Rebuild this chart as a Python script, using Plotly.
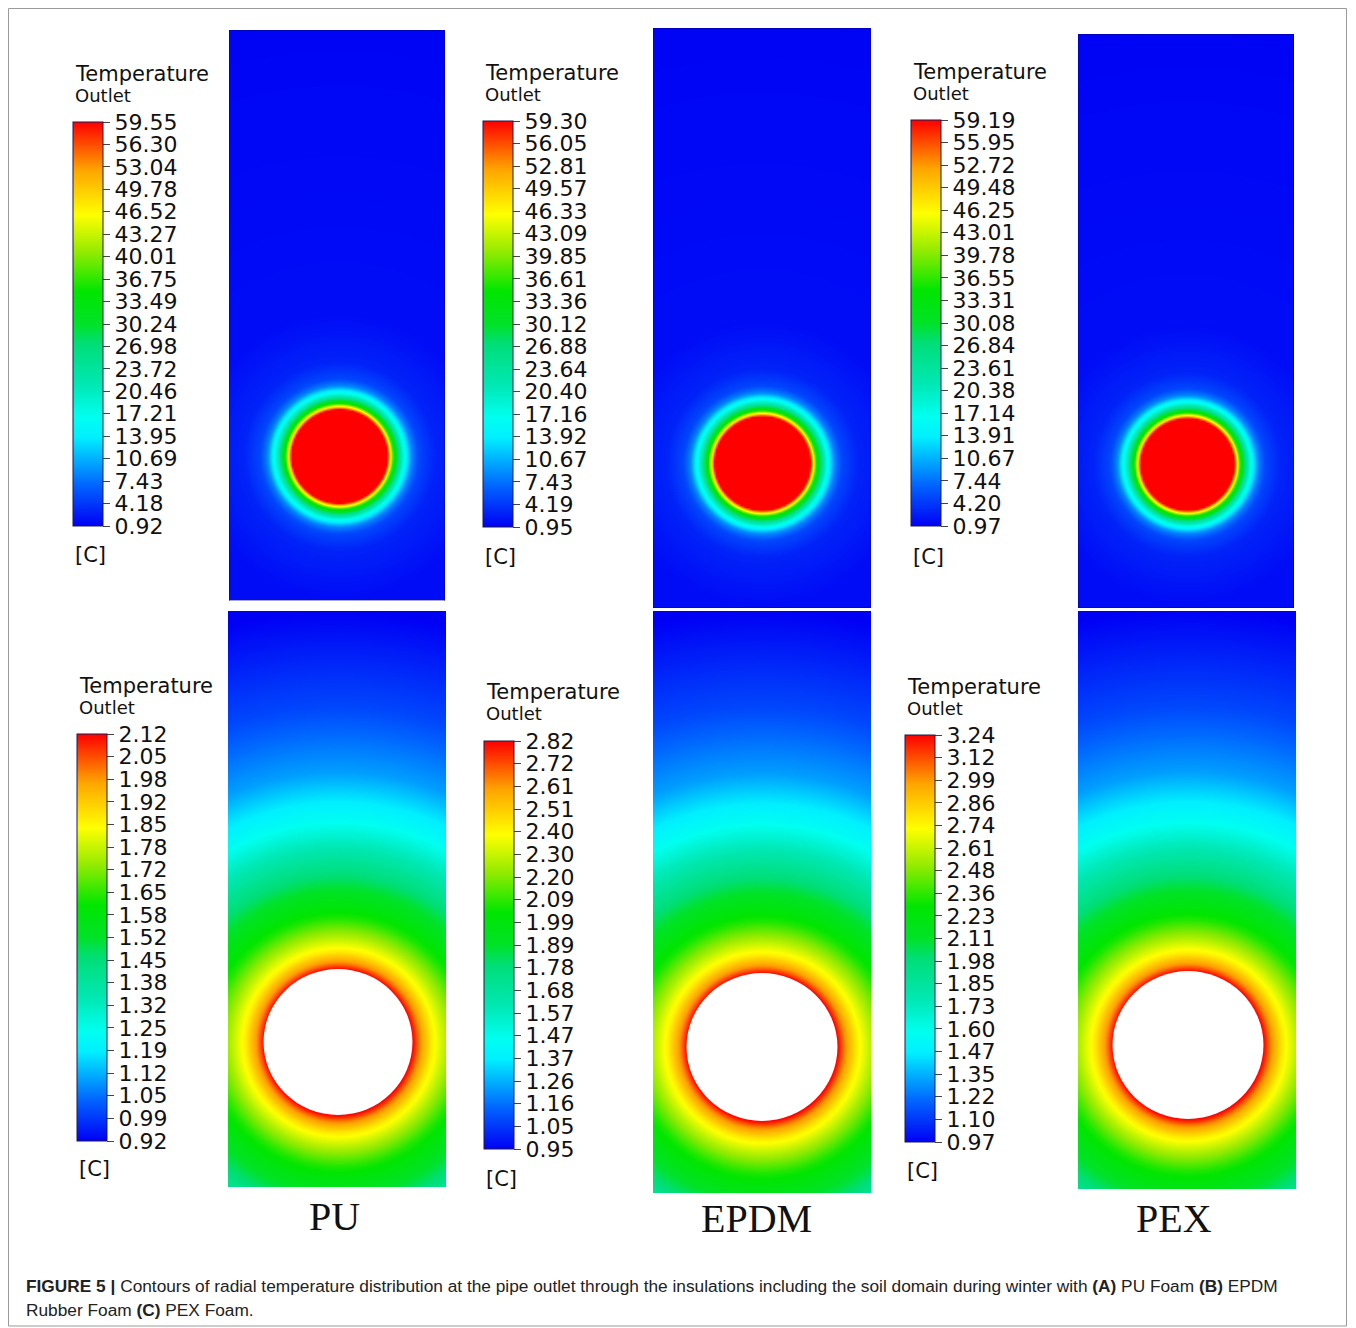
import numpy as np
import plotly.graph_objects as go

# page body has an 8px margin; map reference pixels accordingly
OFF = 8
W, H = 1340, 1320

# ---------------- data: colour-bar tick labels (top to bottom) ----------------
pu_top_labels = ["59.55", "56.30", "53.04", "49.78", "46.52", "43.27", "40.01", "36.75", "33.49", "30.24",
                 "26.98", "23.72", "20.46", "17.21", "13.95", "10.69", "7.43", "4.18", "0.92"]
epdm_top_labels = ["59.30", "56.05", "52.81", "49.57", "46.33", "43.09", "39.85", "36.61", "33.36", "30.12",
                   "26.88", "23.64", "20.40", "17.16", "13.92", "10.67", "7.43", "4.19", "0.95"]
pex_top_labels = ["59.19", "55.95", "52.72", "49.48", "46.25", "43.01", "39.78", "36.55", "33.31", "30.08",
                  "26.84", "23.61", "20.38", "17.14", "13.91", "10.67", "7.44", "4.20", "0.97"]
pu_bot_labels = ["2.12", "2.05", "1.98", "1.92", "1.85", "1.78", "1.72", "1.65", "1.58", "1.52",
                 "1.45", "1.38", "1.32", "1.25", "1.19", "1.12", "1.05", "0.99", "0.92"]
epdm_bot_labels = ["2.82", "2.72", "2.61", "2.51", "2.40", "2.30", "2.20", "2.09", "1.99", "1.89",
                   "1.78", "1.68", "1.57", "1.47", "1.37", "1.26", "1.16", "1.05", "0.95"]
pex_bot_labels = ["3.24", "3.12", "2.99", "2.86", "2.74", "2.61", "2.48", "2.36", "2.23", "2.11",
                  "1.98", "1.85", "1.73", "1.60", "1.47", "1.35", "1.22", "1.10", "0.97"]

materials = ["PU", "EPDM", "PEX"]

# radial temperature profiles (distance / pipe radius -> fraction of range)
top_ratio = [0.0, 1.0, 1.03, 1.07, 1.12, 1.18, 1.26, 1.37, 1.5, 1.65, 2.0, 3.0, 12.0]
top_frac = [1.0, 1.0, 0.90, 0.76, 0.60, 0.52, 0.38, 0.25, 0.13, 0.07, 0.035, 0.012, 0.0]
bot_ratio = [1.0, 1.09, 1.25, 1.45, 1.7, 2.05, 2.6, 3.05, 3.7, 4.6, 5.9, 8.0]
bot_frac = [1.0, 0.90, 0.79, 0.70, 0.60, 0.51, 0.37, 0.26, 0.15, 0.07, 0.0, 0.0]

# ANSYS-like rainbow colour map
rainbow = [
    [0.00, "rgb(0,0,245)"], [0.10, "rgb(0,100,255)"], [0.22, "rgb(0,240,255)"],
    [0.27, "rgb(0,255,240)"], [0.35, "rgb(0,232,180)"], [0.45, "rgb(0,222,120)"],
    [0.50, "rgb(0,226,40)"], [0.58, "rgb(0,230,0)"], [0.68, "rgb(150,235,0)"],
    [0.77, "rgb(255,255,0)"], [0.88, "rgb(255,165,0)"], [1.00, "rgb(255,0,0)"],
]

# ---------------- layout (pixel geometry of the reference) ----------------
panels = [
    dict(box=(229, 445, 30, 601), c=(339, 456), r=47, labels=pu_top_labels, kind="top"),
    dict(box=(653, 871, 28, 608), c=(762, 463), r=47, labels=epdm_top_labels, kind="top"),
    dict(box=(1078, 1294, 34, 608), c=(1187, 464), r=46, labels=pex_top_labels, kind="top"),
    dict(box=(228, 446, 611, 1187), c=(338, 1042), r=73, labels=pu_bot_labels, kind="bot"),
    dict(box=(653, 871, 611, 1193), c=(762, 1047), r=74, labels=epdm_bot_labels, kind="bot"),
    dict(box=(1078, 1296, 611, 1190), c=(1188, 1045), r=74, labels=pex_bot_labels, kind="bot"),
]
bars = [
    dict(x=73, y0=121, y1=525, ty=74, cy=555),
    dict(x=483, y0=120, y1=526, ty=73, cy=557),
    dict(x=911, y0=119, y1=525, ty=72, cy=557),
    dict(x=77, y0=733, y1=1140, ty=686, cy=1169),
    dict(x=484, y0=740, y1=1148, ty=692, cy=1179),
    dict(x=905, y0=734, y1=1141, ty=687, cy=1171),
]
name_pos = [(334, 1216), (756, 1218), (1174, 1218)]


def px(x):
    return (x - OFF) / W


def py(y):
    return 1 - (y - OFF) / H


fig = go.Figure()
shapes = []
annotations = []
TXT = "DejaVu Sans"

for i, (p, b) in enumerate(zip(panels, bars), start=1):
    x0, x1, y0, y1 = p["box"]
    cx, cy = p["c"]
    r = p["r"]
    step = 2
    xs = np.arange(x0 + step / 2, x1, step)
    ys = np.arange(y0 + step / 2, y1, step)
    XX, YY = np.meshgrid(xs, ys)
    d = np.sqrt(((XX - cx) / 1.02) ** 2 + (YY - cy) ** 2) / r
    vals = [float(v) for v in p["labels"]]
    tmax, tmin = vals[0], vals[-1]
    if p["kind"] == "top":
        f = np.interp(d, top_ratio, top_frac)
    else:
        f = np.interp(d, bot_ratio, bot_frac)
    z = np.round(tmin + f * (tmax - tmin), 4)

    xa = "x" if i == 1 else f"x{i}"
    ya = "y" if i == 1 else f"y{i}"
    tickvals = list(np.linspace(tmax, tmin, len(vals)))
    fig.add_trace(go.Heatmap(
        x=xs, y=ys, z=z, xaxis=xa, yaxis=ya, zmin=tmin, zmax=tmax,
        colorscale=rainbow, zsmooth="best", hoverinfo="skip",
        colorbar=dict(
            x=px(b["x"]), xanchor="left", y=py((b["y0"] + b["y1"]) / 2 + 1), yanchor="middle",
            len=(b["y1"] - b["y0"]) / H, lenmode="fraction",
            thickness=30, thicknessmode="pixels", xpad=0, ypad=0,
            outlinewidth=1, outlinecolor="#1a1a4a",
            tickmode="array", tickvals=tickvals, ticktext=p["labels"],
            ticks="outside", ticklen=7, tickcolor="#444", tickwidth=1,
            tickfont=dict(family=TXT, size=22, color="#111"),
        ),
    ))
    axkey = "xaxis" if i == 1 else f"xaxis{i}"
    aykey = "yaxis" if i == 1 else f"yaxis{i}"
    fig.layout[axkey] = dict(domain=[px(x0), px(x1)], range=[x0, x1], visible=False,
                             anchor=ya, fixedrange=True)
    fig.layout[aykey] = dict(domain=[py(y1), py(y0)], range=[y1, y0], visible=False,
                             anchor=xa, fixedrange=True)

    if p["kind"] == "bot":
        shapes.append(dict(type="circle", xref=xa, yref=ya, x0=cx - r * 1.02, x1=cx + r * 1.02,
                           y0=cy - r, y1=cy + r, fillcolor="white", line=dict(width=0), layer="above"))
    else:
        shapes.append(dict(type="rect", xref=xa, yref=ya, x0=x0, x1=x1, y0=y0, y1=y1,
                           line=dict(color="rgba(0,0,110,0.7)", width=1), layer="above"))

    annotations.append(dict(text="Temperature", x=px(b["x"]), y=py(b["ty"]), xref="paper", yref="paper",
                            xanchor="left", yanchor="middle", showarrow=False,
                            font=dict(family=TXT, size=21, color="#111")))
    annotations.append(dict(text="Outlet", x=px(b["x"]), y=py(b["ty"] + 21), xref="paper", yref="paper",
                            xanchor="left", yanchor="middle", showarrow=False,
                            font=dict(family=TXT, size=18, color="#111")))
    annotations.append(dict(text="[C]", x=px(b["x"]), y=py(b["cy"]), xref="paper", yref="paper",
                            xanchor="left", yanchor="middle", showarrow=False,
                            font=dict(family=TXT, size=21, color="#111")))

for name, (nx, ny) in zip(materials, name_pos):
    annotations.append(dict(text=name, x=px(nx), y=py(ny), xref="paper", yref="paper",
                            xanchor="center", yanchor="middle", showarrow=False,
                            font=dict(family="Liberation Serif", size=40, color="#111")))

cap1 = ("<b>FIGURE 5 |</b> Contours of radial temperature distribution at the pipe outlet through the "
        "insulations including the soil domain during winter with <b>(A)</b> PU Foam <b>(B)</b> EPDM")
cap2 = "Rubber Foam <b>(C)</b> PEX Foam."
annotations.append(dict(text=cap1, x=px(24), y=py(1286), xref="paper", yref="paper", xanchor="left",
                        yanchor="middle", showarrow=False,
                        font=dict(family="Liberation Sans", size=17.3, color="#222")))
annotations.append(dict(text=cap2, x=px(24), y=py(1310), xref="paper", yref="paper", xanchor="left",
                        yanchor="middle", showarrow=False,
                        font=dict(family="Liberation Sans", size=17.3, color="#222")))

# outer frame
shapes.append(dict(type="rect", xref="paper", yref="paper", x0=px(8.5), x1=px(1346.5), y0=py(1326),
                   y1=py(8.5), line=dict(color="#9a9a9a", width=1), fillcolor="rgba(0,0,0,0)",
                   layer="below"))

fig.update_layout(width=W, height=H, margin=dict(l=0, r=0, t=0, b=0),
                  paper_bgcolor="white", plot_bgcolor="white", showlegend=False,
                  shapes=shapes, annotations=annotations)

fig.write_html("out.html")
